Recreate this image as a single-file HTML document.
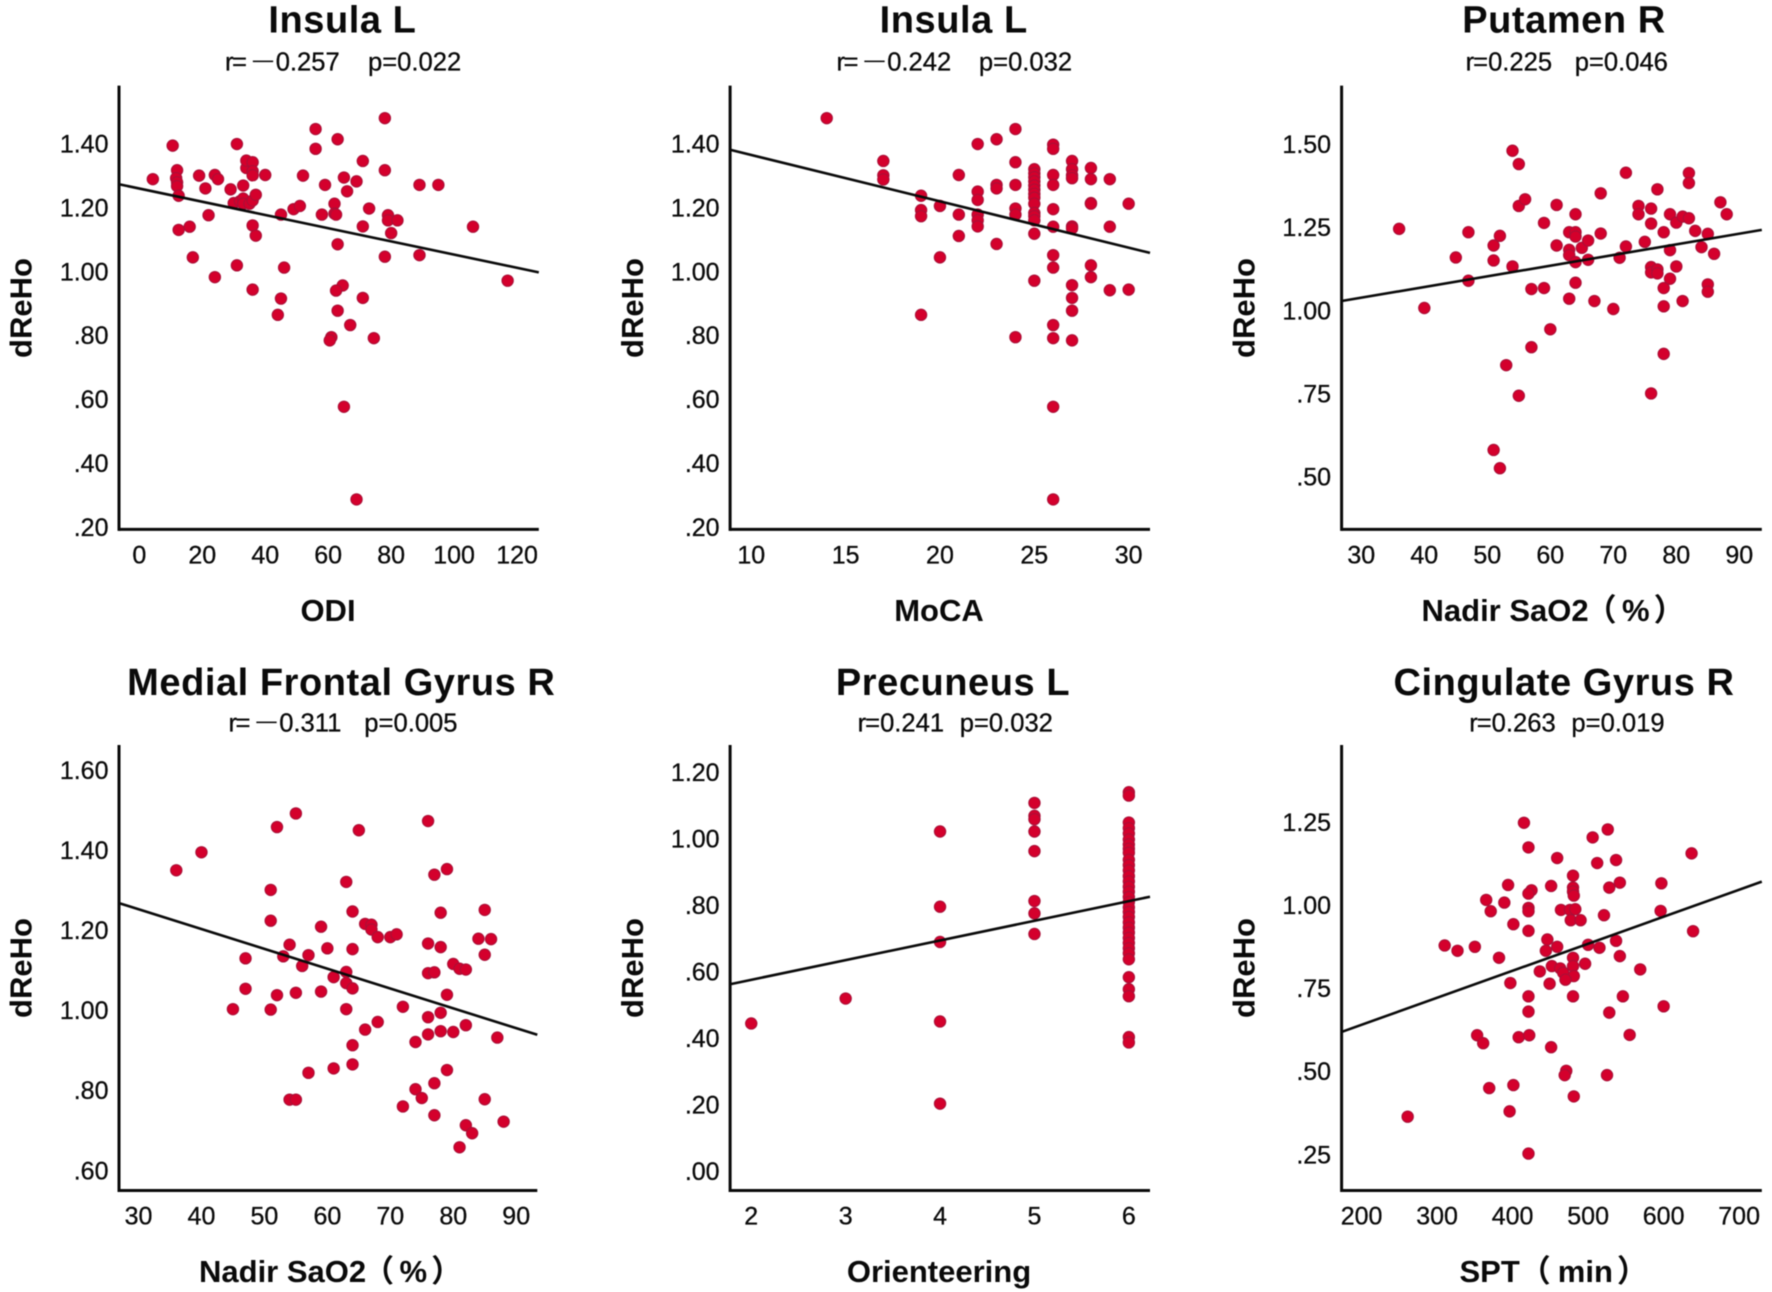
<!DOCTYPE html>
<html lang="en">
<head>
<meta charset="utf-8">
<title>dReHo correlation scatter plots</title>
<style>
html,body{margin:0;padding:0;background:#fff;width:1772px;height:1292px;overflow:hidden}
svg{display:block;filter:blur(.45px)}
text{font-family:"Liberation Sans","Noto Sans CJK SC",sans-serif;fill:#0a0a0a}
.title{font-size:38px;font-weight:700;text-anchor:middle;letter-spacing:.56px}
.stat{font-size:25.6px;stroke:#0a0a0a;stroke-width:.3px}
.minus{font-size:20px}
.axis-label{font-size:31px;font-weight:700;text-anchor:middle}
.axis-label-start{text-anchor:start}
.tick{font-size:25px;stroke:#0a0a0a;stroke-width:.3px}
</style>
</head>
<body>
<svg id="figure" width="1772" height="1292" viewBox="0 0 1772 1292" xmlns="http://www.w3.org/2000/svg">
<rect width="1772" height="1292" fill="#fff"/>

<g id="panel-1">
<text class="title" x="342.4" y="32.6">Insula L</text>
<text class="stat" y="70.5"><tspan x="225" letter-spacing="-1.5">r=</tspan><tspan class="minus" x="253" dy="-4">—</tspan><tspan x="275.7" dy="4">0.257</tspan></text>
<text class="stat" x="368" y="70.5">p=0.022</text>
<text class="axis-label" x="328" y="621">ODI</text>
<text class="axis-label" transform="translate(31.4 308) rotate(-90)">dReHo</text>
</g>

<g id="panel-2">
<text class="title" x="953.7" y="32.6">Insula L</text>
<text class="stat" y="70.5"><tspan x="836.5" letter-spacing="-1.5">r=</tspan><tspan class="minus" x="864.5" dy="-4">—</tspan><tspan x="887.2" dy="4">0.242</tspan></text>
<text class="stat" x="978.9" y="70.5">p=0.032</text>
<text class="axis-label" x="939" y="621">MoCA</text>
<text class="axis-label" transform="translate(642.9 308) rotate(-90)">dReHo</text>
</g>

<g id="panel-3">
<text class="title" x="1564" y="32.6">Putamen R</text>
<text class="stat" x="1465.6" y="70.5"><tspan letter-spacing="-1">r</tspan>=0.225</text>
<text class="stat" x="1574.7" y="70.5">p=0.046</text>
<text class="axis-label axis-label-start" x="1421.5" y="621">Nadir SaO2<tspan dx="-3">（</tspan><tspan dx="5.4">%</tspan><tspan dx="4">）</tspan></text>
<text class="axis-label" transform="translate(1254.7 308) rotate(-90)">dReHo</text>
</g>

<g id="panel-4">
<text class="title" x="341.3" y="695">Medial Frontal Gyrus R</text>
<text class="stat" y="731.5"><tspan x="228.5" letter-spacing="-1.5">r=</tspan><tspan class="minus" x="256.5" dy="-4">—</tspan><tspan x="279.2" dy="4">0.311</tspan></text>
<text class="stat" x="364.3" y="731.5">p=0.005</text>
<text class="axis-label axis-label-start" x="199" y="1282">Nadir SaO2<tspan dx="-3">（</tspan><tspan dx="5.4">%</tspan><tspan dx="4">）</tspan></text>
<text class="axis-label" transform="translate(31.4 968) rotate(-90)">dReHo</text>
</g>

<g id="panel-5">
<text class="title" x="953" y="695">Precuneus L</text>
<text class="stat" x="857.6" y="731.5"><tspan letter-spacing="-1">r</tspan>=0.241</text>
<text class="stat" x="959.7" y="731.5">p=0.032</text>
<text class="axis-label" x="939" y="1282">Orienteering</text>
<text class="axis-label" transform="translate(642.9 968) rotate(-90)">dReHo</text>
</g>

<g id="panel-6">
<text class="title" x="1564" y="695">Cingulate Gyrus R</text>
<text class="stat" x="1469.2" y="731.5"><tspan letter-spacing="-1">r</tspan>=0.263</text>
<text class="stat" x="1571.4" y="731.5">p=0.019</text>
<text class="axis-label axis-label-start" x="1459.5" y="1282">SPT（<tspan dx="7">min</tspan><tspan dx="4">）</tspan></text>
<text class="axis-label" transform="translate(1254.7 968) rotate(-90)">dReHo</text>
</g>
</svg>

<script>
// ---------- Panel 1: Insula L vs ODI ----------
const p1X = [4.3,10.6,12,11.7,12,12,12.5,12.5,16,17,19,21,22,24,25,24,29,30,31,31,32,33,33,33,34,34,35,36,36,36,36,37,36,37,36,40,45,46,45,44,49,51,52,56,56,58,59,62,62,62.5,63,63,64.6,62.5,63,61,60.5,65,66,65,67,69,69,71,71,71,73,74.5,78,78,78,79,79,82,80,89,89,95,106,117];
const p1Y = [1.292,1.397,1.32,1.295,1.282,1.27,1.24,1.133,1.143,1.047,1.303,1.263,1.179,1.305,1.292,.985,1.26,1.217,1.022,1.402,1.223,1.231,1.272,1.215,1.327,1.35,1.215,1.345,1.317,1.225,1.304,1.243,1.147,1.115,.946,1.305,1.181,1.015,.918,.867,1.198,1.208,1.303,1.449,1.387,1.181,1.274,1.215,1.184,1.181,1.088,1.417,.959,.943,.88,.797,.787,1.297,1.254,.579,.835,1.285,.289,1.349,1.144,.92,1.2,.794,1.483,1.32,1.049,1.179,1.163,1.163,1.123,1.274,1.054,1.274,1.143,.974];
const p1XTicks = [0,20,40,60,80,100,120];
const p1YTicks = [.2,.4,.6,.8,1,1.2,1.4];
const p1YLabels = [".20",".40",".60",".80","1.00","1.20","1.40"];
const p1FitEnds = [1.276,1.0];

// ---------- Panel 2: Insula L vs MoCA ----------
const p2X = [14,17,17,17,19,19,19,19,20,20,21,21,21,22,22,22,22,22,22,23,23,23,23,24,24,24,24,24,24,25,25,25,25,25,25,25,25,25,25,25,25,25,25,26,26,26,26,26,26,26,26,26,26,26,26,27,27,27,27,27,27,27,27,27,27,28,28,28,28,28,28,29,29,29,30,30];
const p2Y = [1.483,1.349,1.304,1.291,1.24,1.195,1.176,.867,1.208,1.047,1.305,1.181,1.114,1.402,1.253,1.227,1.181,1.163,1.144,1.417,1.274,1.263,1.089,1.449,1.345,1.274,1.2,1.181,.797,1.323,1.31,1.298,1.285,1.272,1.259,1.246,1.234,1.215,1.186,1.176,1.163,1.121,.974,1.4,1.387,1.305,1.274,1.198,1.143,1.054,1.015,.835,.794,.579,.289,1.349,1.323,1.304,1.295,1.144,1.138,.96,.92,.88,.787,1.327,1.292,1.217,1.215,1.022,.985,1.292,1.143,.944,1.215,.946];
const p2XTicks = [10,15,20,25,30];
const p2YTicks = [.2,.4,.6,.8,1,1.2,1.4];
const p2YLabels = [".20",".40",".60",".80","1.00","1.20","1.40"];
const p2FitEnds = [1.384,1.061];

// ---------- Panel 3: Putamen R vs Nadir SaO2 ----------
const p3X = [36,40,45,47,47,51,51,51,52,52,53,54,54,55,55,55,56,57,57,59,59,60,61,61,63,63,63,63,64,64,64,64,64,65,66,66,67,68,68,70,71,72,72,74,74,75,76,76,76,76,76,77,77,77,78,78,78,78,79,79,79,80,80,81,81,82,82,82,83,84,85,85,85,86,87,88];
const p3Y = [1.248,1.01,1.162,1.238,1.092,1.198,1.153,.583,1.227,.528,.838,1.483,1.135,1.443,1.317,.746,1.337,1.067,.892,1.266,1.07,.946,1.198,1.32,1.238,1.185,1.169,1.038,1.292,1.238,1.225,1.148,1.086,1.191,1.213,1.155,1.031,1.355,1.234,1.007,1.161,1.195,1.417,1.317,1.292,1.209,1.309,1.264,1.133,1.117,.753,1.367,1.126,1.114,1.238,1.07,1.015,.872,1.292,1.184,1.098,1.267,1.135,1.031,1.285,1.28,1.416,1.386,1.242,1.193,1.233,1.081,1.059,1.173,1.328,1.292];
const p3XTicks = [30,40,50,60,70,80,90];
const p3YTicks = [.5,.75,1,1.25,1.5];
const p3YLabels = [".50",".75","1.00","1.25","1.50"];
const p3FitEnds = [1.031,1.245];

// ---------- Panel 4: Medial Frontal Gyrus R vs Nadir SaO2 ----------
const p4X = [36,40,45,47,47,51,51,51,52,52,53,54,54,55,55,55,56,57,57,59,59,60,61,61,63,63,63,63,64,64,64,64,64,65,66,66,67,67,68,68,70,71,72,72,74,74,75,76,76,76,76,76,77,77,77,77,78,78,78,78,79,79,79,80,80,81,81,82,82,82,83,84,85,85,85,86,87,88];
const p4Y = [1.352,1.397,1.005,1.132,1.056,1.303,1.226,1.004,1.46,1.04,1.137,1.166,.779,1.494,1.046,.779,1.113,1.14,.846,1.211,1.049,1.157,1.085,.857,1.323,1.098,1.07,1.005,1.249,1.155,1.057,.915,.867,1.452,1.218,.954,1.216,1.204,1.185,.973,1.185,1.192,1.011,.762,.923,.805,.783,1.475,1.169,1.095,.985,.942,1.341,1.097,.82,.74,1.246,1.16,.996,.95,1.355,1.041,.853,1.118,.948,1.106,.66,1.104,.965,.715,.695,1.181,1.253,1.141,.78,1.18,.934,.724];
const p4XTicks = [30,40,50,60,70,80,90];
const p4YTicks = [.6,.8,1,1.2,1.4,1.6];
const p4YLabels = [".60",".80","1.00","1.20","1.40","1.60"];
const p4FitEnds = [1.27,.941];

// ---------- Panel 5: Precuneus L vs Orienteering ----------
const p5X = [2,3,4,4,4,4,4,5,5,5,5,5,5,5,5,6,6,6,6,6,6,6,6,6,6,6,6,6,6,6,6,6,6,6,6,6,6,6,6,6,6,6,6,6,6,6,6,6,6];
const p5Y = [.447,.522,1.024,.798,.692,.453,.206,1.11,1.071,1.061,1.024,.965,.815,.778,.716,1.142,1.132,1.051,1.034,1.018,1.0,.985,.972,.96,.939,.923,.907,.89,.874,.858,.843,.827,.812,.796,.782,.767,.751,.735,.72,.704,.689,.673,.658,.64,.586,.55,.529,.406,.39];
const p5XTicks = [2,3,4,5,6];
const p5YTicks = [0,.2,.4,.6,.8,1,1.2];
const p5YLabels = [".00",".20",".40",".60",".80","1.00","1.20"];
const p5FitEnds = [.565,.828];

// ---------- Panel 6: Cingulate Gyrus R vs SPT ----------
const p6X = [415,421,459,506,526,512,537,637,480,542,451,394,480,480,481,528,597,425,421,365,389,371,421,421,464,476,483,521,596,477,490,401,421,639,446,537,310,327,350,459,444,500,515,382,542,480,480,496,452,463,467,436,569,481,470,397,449,421,480,546,600,421,528,555,353,361,408,422,451,471,469,525,401,369,481,396,261,421];
const p6Y = [1.25,1.176,1.144,1.206,1.23,1.129,1.138,1.158,1.091,1.07,1.06,1.063,1.055,1.043,1.031,1.055,1.068,1.047,1.037,1.018,1.01,.984,.994,.984,.988,.988,.99,.972,.985,.957,.957,.945,.925,.924,.899,.895,.881,.865,.877,.877,.865,.883,.874,.844,.849,.844,.819,.826,.819,.812,.799,.803,.809,.789,.778,.768,.766,.728,.728,.728,.698,.682,.679,.612,.611,.587,.605,.611,.575,.504,.491,.491,.461,.452,.427,.382,.366,.255];
const p6XTicks = [200,300,400,500,600,700];
const p6YTicks = [.25,.5,.75,1,1.25];
const p6YLabels = [".25",".50",".75","1.00","1.25"];
const p6FitEnds = [.621,1.073];

const SVG_NS = 'http://www.w3.org/2000/svg';

function make(tag, parent, attrs) {
  const el = document.createElementNS(SVG_NS, tag);
  for (const k in attrs) el.setAttribute(k, attrs[k]);
  parent.appendChild(el);
  return el;
}

function drawPanel(cfg) {
  const root = document.getElementById(cfg.id);
  const sx = v => cfg.left + (v - cfg.xDomain[0]) / (cfg.xDomain[1] - cfg.xDomain[0]) * (cfg.right - cfg.left);
  const sy = v => cfg.bottom - (v - cfg.yDomain[0]) / (cfg.yDomain[1] - cfg.yDomain[0]) * (cfg.bottom - cfg.top);

  cfg.y.forEach((v, i) => {
    const dot = make('circle', root, {cx: sx(cfg.x[i]), cy: sy(v), r: 5.7, fill: '#d4002c', stroke: '#a81038', 'stroke-width': 1});
    
    
  });

  const fit = make('line', root, {x1: cfg.left, y1: sy(cfg.fit[0]), x2: cfg.right, y2: sy(cfg.fit[1]), stroke: '#0a0a0a', 'stroke-width': 2.6});
  
  

  const yAxis = make('line', root, {x1: cfg.left, y1: cfg.top, x2: cfg.left, y2: cfg.bottom + 1.5, stroke: '#0a0a0a', 'stroke-width': 3});
  
  

  const xAxis = make('line', root, {x1: cfg.left, y1: cfg.bottom, x2: cfg.right, y2: cfg.bottom, stroke: '#0a0a0a', 'stroke-width': 3});
  
  

  cfg.xTicks.forEach(v => {
    const t = make('text', root, {class: 'tick', x: sx(v), y: cfg.bottom + 34, 'text-anchor': 'middle'});
    t.textContent = String(v);
    
    
  });

  cfg.yTicks.forEach((v, i) => {
    const t = make('text', root, {class: 'tick', x: cfg.left - 10.5, y: sy(v) + 8, 'text-anchor': 'end'});
    t.textContent = cfg.yLabels[i];
    
    
  });
}

drawPanel({id:'panel-1', left:119,    right:538.8,  top:85.6, bottom:529.4,  xDomain:[-6.45,126.9],   yDomain:[.195,1.585],  x:p1X, y:p1Y, xTicks:p1XTicks, yTicks:p1YTicks, yLabels:p1YLabels, fit:p1FitEnds});
drawPanel({id:'panel-2', left:730.1,  right:1150,   top:85.6, bottom:529.4,  xDomain:[8.88,31.13],    yDomain:[.195,1.585],  x:p2X, y:p2Y, xTicks:p2XTicks, yTicks:p2YTicks, yLabels:p2YLabels, fit:p2FitEnds});
drawPanel({id:'panel-3', left:1341.6, right:1761.8, top:85.6, bottom:529.4,  xDomain:[26.87,93.57],   yDomain:[.344,1.679],  x:p3X, y:p3Y, xTicks:p3XTicks, yTicks:p3YTicks, yLabels:p3YLabels, fit:p3FitEnds});
drawPanel({id:'panel-4', left:119,    right:537.3,  top:745,  bottom:1190.5, xDomain:[26.9,93.35],    yDomain:[.552,1.665],  x:p4X, y:p4Y, xTicks:p4XTicks, yTicks:p4YTicks, yLabels:p4YLabels, fit:p4FitEnds});
drawPanel({id:'panel-5', left:730.1,  right:1150,   top:745,  bottom:1190.5, xDomain:[1.776,6.224],   yDomain:[-.055,1.284], x:p5X, y:p5Y, xTicks:p5XTicks, yTicks:p5YTicks, yLabels:p5YLabels, fit:p5FitEnds});
drawPanel({id:'panel-6', left:1341.6, right:1761.8, top:745,  bottom:1190.5, xDomain:[173.5,730],     yDomain:[.144,1.484],  x:p6X, y:p6Y, xTicks:p6XTicks, yTicks:p6YTicks, yLabels:p6YLabels, fit:p6FitEnds});
</script>
</body>
</html>
